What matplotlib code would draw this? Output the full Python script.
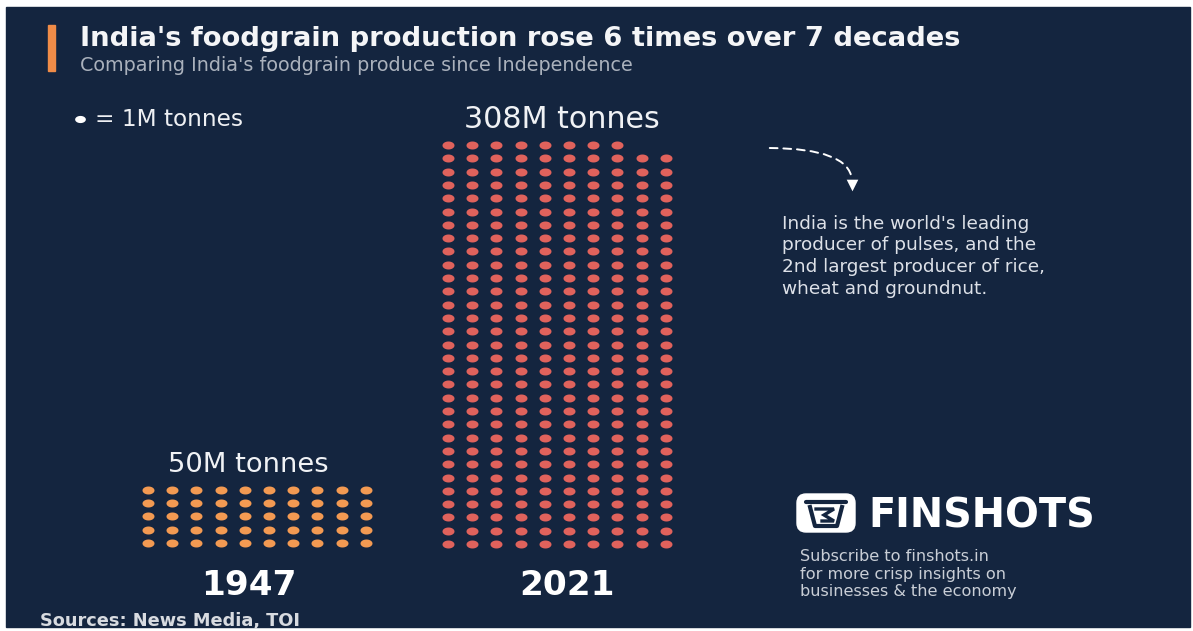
import numpy as np
import matplotlib.pyplot as plt
from matplotlib.patches import Rectangle, FancyBboxPatch, FancyArrowPatch
from matplotlib.path import Path

# foodgrain production, million tonnes (one dot = 1M tonnes)
years = ["1947", "2021"]
production = [50, 308]
production_labels = ["50M tonnes", "308M tonnes"]
dot_colors = ["#f39a52", "#e0625c"]
per_row = 10

note_lines = ["India is the world's leading",
              "producer of pulses, and the",
              "2nd largest producer of rice,",
              "wheat and groundnut."]
promo_lines = ["Subscribe to finshots.in",
               "for more crisp insights on",
               "businesses & the economy"]

W, H = 1193, 631
NAVY = "#14253f"

fig = plt.figure(figsize=(W / 100, H / 100), dpi=100, facecolor="white")
bg = fig.add_axes([0, 0, 1, 1])
bg.set_xlim(0, W)
bg.set_ylim(H, 0)
bg.axis("off")
renderer = fig.canvas.get_renderer()

bg.add_patch(Rectangle((6, 7), 1184, 620, color=NAVY, zorder=0))


def fitted(x, y, s, width, cap, ha="left", **kw):
    # baseline-anchored text; font size from cap height, shrunk if wider than `width`
    size = cap / 0.73 * 0.72
    t = bg.text(x, y, s, fontsize=size, va="baseline", ha=ha, **kw)
    w = t.get_window_extent(renderer).width
    if w > width:
        t.set_fontsize(size * width / w)
    return t


# header
bg.add_patch(Rectangle((48, 25), 7, 46, color="#f08c48", zorder=1))
fitted(80, 46, "India's foodgrain production rose 6 times over 7 decades", 1068, 20,
       color="#f4f5f7", fontweight="bold")
fitted(80, 71, "Comparing India's foodgrain produce since Independence", 860, 14,
       color="#aab1bc")

# ellipse-shaped dot
theta = np.linspace(0, 2 * np.pi, 48)
dot = Path(np.column_stack([1.5 * np.cos(theta), np.sin(theta)]))
dot_size = (12 * 72 / 100) ** 2

bg.scatter([80], [119], marker=dot, s=dot_size * 0.8, color="white", linewidths=0)
fitted(95, 126, "= 1M tonnes", 205, 17, color="#eef0f3")

# dot grids
col_step, row_step = 24.2, 13.3
grid_left = [148, 448]
grid_bottom = [543, 544]
label_base = [472, 128]
label_cx = [248, 562]
year_cx = [249, 567]

for k, value in enumerate(production):
    idx = np.arange(value)
    cols = idx % per_row
    rows = idx // per_row
    nrows = rows.max() + 1
    x0 = grid_left[k] - col_step / 2
    y0 = grid_bottom[k] + row_step / 2
    ax = fig.add_axes([x0 / W, 1 - y0 / H, per_row * col_step / W, nrows * row_step / H])
    ax.set_xlim(-0.5, per_row - 0.5)
    ax.set_ylim(-0.5, nrows - 0.5)
    ax.axis("off")
    ax.patch.set_alpha(0)
    ax.scatter(cols, rows, marker=dot, s=dot_size, color=dot_colors[k], linewidths=0)

    fitted(label_cx[k], label_base[k], production_labels[k], 270, 22 if k else 20,
           ha="center", color="#f0f2f5")
    fitted(year_cx[k], 595, years[k], 112, 25, ha="center", color="white",
           fontweight="bold")

fitted(40, 626, "Sources: News Media, TOI", 287, 13, color="#d8dbe0", fontweight="bold")

# curved dashed pointer
bg.add_patch(FancyArrowPatch((767, 148), (852, 182),
                             connectionstyle="angle3,angleA=0,angleB=90",
                             arrowstyle="-", color="white", lw=1.4,
                             linestyle=(0, (4, 3))))
bg.scatter([852], [185], marker="v", s=70, color="white", linewidths=0)

for i, line in enumerate(note_lines):
    fitted(782, 229 + i * 21.5, line, 346, 13.5, color="#dde1e8")

# logo
bg.add_patch(FancyBboxPatch((797, 494), 58, 38, boxstyle="round,pad=0,rounding_size=9",
                            color="white", zorder=2))
bg.plot([806, 846], [502, 502], color=NAVY, lw=3, solid_capstyle="round", zorder=3)
bg.plot([810, 815, 837, 842], [507, 526, 526, 507], color=NAVY, lw=3,
        solid_joinstyle="round", zorder=3)
bg.plot([816, 834, 824, 834, 822], [509, 509, 515, 521, 521], color=NAVY, lw=2.4,
        solid_joinstyle="miter", zorder=3)
fitted(868, 527, "FINSHOTS", 239, 29, color="white", fontweight="bold")

for i, line in enumerate(promo_lines):
    fitted(800, 561 + i * 17.5, line, 304, 11.8, color="#c9ced6")

fig.savefig("out.png", dpi=100, facecolor="white")
